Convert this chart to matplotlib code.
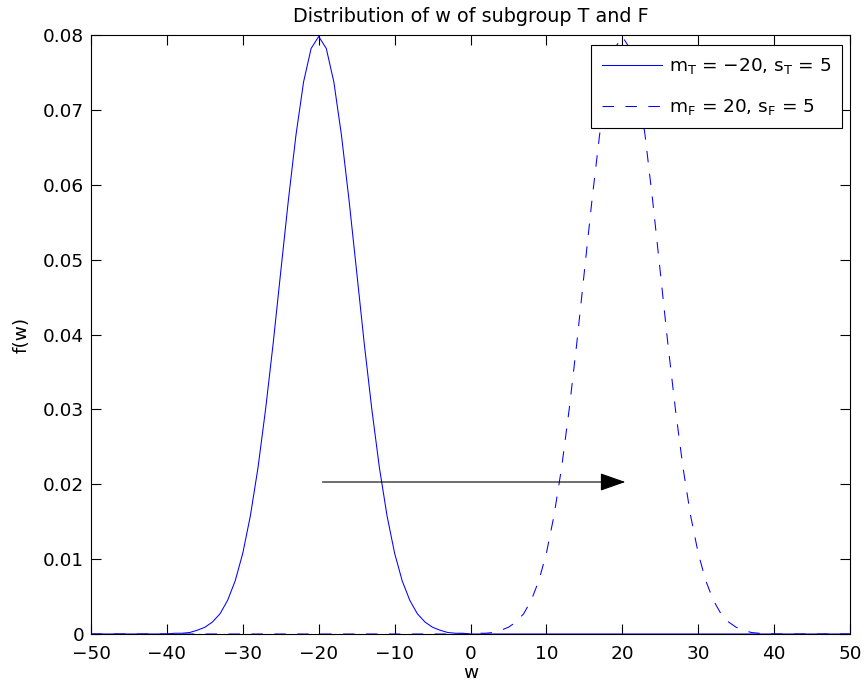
import matplotlib
matplotlib.use("Agg")
import matplotlib.pyplot as plt
from matplotlib.ticker import FixedLocator, FuncFormatter

plt.rcParams['font.family'] = ['DejaVu Sans']
plt.rcParams['mathtext.default'] = 'regular'

# sample positions of w
w = list(range(-50, 51))

# f(w) for subgroup T
f_T = ([0.0] * 10 +
       [0.0000, 0.0001, 0.0001, 0.0002, 0.0005, 0.0009, 0.0016, 0.0027, 0.0045, 0.0071,
        0.0108, 0.0158, 0.0222, 0.0300, 0.0388, 0.0484, 0.0579, 0.0666, 0.0737, 0.0782,
        0.0798,
        0.0782, 0.0737, 0.0666, 0.0579, 0.0484, 0.0388, 0.0300, 0.0222, 0.0158, 0.0108,
        0.0071, 0.0045, 0.0027, 0.0016, 0.0009, 0.0005, 0.0002, 0.0001, 0.0001, 0.0000] +
       [0.0] * 50)

# f(w) for subgroup F
f_F = ([0.0] * 50 +
       [0.0000, 0.0001, 0.0001, 0.0002, 0.0005, 0.0009, 0.0016, 0.0027, 0.0045, 0.0071,
        0.0108, 0.0158, 0.0222, 0.0300, 0.0388, 0.0484, 0.0579, 0.0666, 0.0737, 0.0782,
        0.0798,
        0.0782, 0.0737, 0.0666, 0.0579, 0.0484, 0.0388, 0.0300, 0.0222, 0.0158, 0.0108,
        0.0071, 0.0045, 0.0027, 0.0016, 0.0009, 0.0005, 0.0002, 0.0001, 0.0001, 0.0000] +
       [0.0] * 10)

label_T = r'm$_{T}$ = −20, s$_{T}$ = 5'
label_F = r'm$_{F}$ = 20, s$_{F}$ = 5'
title = 'Distribution of w of subgroup T and F'
arrow_start = (-19.5, 0.0203)
arrow_end = (20.4, 0.0203)

x_ticks = [-50, -40, -30, -20, -10, 0, 10, 20, 30, 40, 50]
y_ticks = [0, 0.01, 0.02, 0.03, 0.04, 0.05, 0.06, 0.07, 0.08]

FS = 13.3

fig = plt.figure(figsize=(8.67, 6.92), dpi=100)
ax = fig.add_axes([91 / 867, 1 - 634 / 692, 759 / 867, 599 / 692])

ax.plot(w, f_T, color='blue', lw=0.75, label=label_T)
ax.plot(w, f_F, color='blue', lw=0.75, linestyle=(0, (11, 11)), label=label_F)

ax.annotate('', xy=arrow_end, xytext=arrow_start,
            arrowprops=dict(arrowstyle='-|>,head_length=0.8,head_width=0.28',
                            mutation_scale=20, color='black', lw=0.8,
                            shrinkA=0, shrinkB=0))

ax.set_xlim(-50, 50)
ax.set_ylim(0, 0.08)
ax.xaxis.set_major_locator(FixedLocator(x_ticks))
ax.yaxis.set_major_locator(FixedLocator(y_ticks))
ax.xaxis.set_major_formatter(FuncFormatter(lambda v, p: f'{int(v)}'.replace('-', '−')))
ax.yaxis.set_major_formatter(FuncFormatter(lambda v, p: '0' if v == 0 else f'{v:.2f}'))
ax.tick_params(direction='in', length=7, width=0.8, top=True, right=True,
               labelsize=FS, colors='black')
ax.tick_params(axis='x', pad=8)
ax.tick_params(axis='y', pad=5)
for s in ax.spines.values():
    s.set_linewidth(0.8)

ax.set_xlabel('w', fontsize=FS, labelpad=1)
ax.set_ylabel('f(w)', fontsize=FS, labelpad=9)
ax.set_title(title, fontsize=13.8, pad=9)

leg = ax.legend(loc='upper right', bbox_to_anchor=((842 - 91) / 759, (634 - 45) / 599),
                fontsize=FS, frameon=True, fancybox=False, edgecolor='black',
                framealpha=1, handlelength=3.25, borderpad=0.6, labelspacing=1.15,
                handletextpad=0.35, borderaxespad=0.0)
leg.get_frame().set_linewidth(0.8)

fig.savefig('out.png', dpi=100)
